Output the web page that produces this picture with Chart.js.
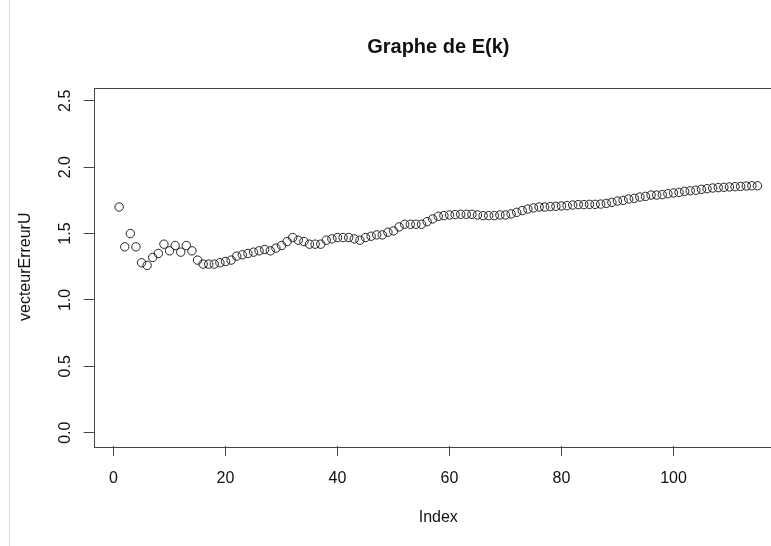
<!DOCTYPE html>
<html>
<head>
<meta charset="utf-8">
<title>Graphe de E(k)</title>
<script src="https://cdn.jsdelivr.net/npm/chart.js@4/dist/chart.umd.min.js"></script>
<style>
  html, body { margin: 0; padding: 0; background: #fff; overflow: hidden; }
  #wrap { position: relative; width: 771px; height: 546px; overflow: hidden; }
  #frame { position: absolute; left: 9px; top: 0; width: 1px; height: 546px; background: #dadada; }
  canvas { position: absolute; left: 0; top: 0; }
</style>
</head>
<body>
<div id="wrap">
  <canvas id="chart" width="800" height="546"></canvas>
  <div id="frame"></div>
</div>
<script>
// valeurs (vecteurErreurU, index 1..115)
const vecteurErreurU = [
  1.70, 1.40, 1.50, 1.40, 1.28, 1.26, 1.32, 1.35, 1.42, 1.37,
  1.41, 1.36, 1.41, 1.37, 1.30, 1.27, 1.27, 1.27, 1.28, 1.29,
  1.30, 1.33, 1.34, 1.35, 1.36, 1.37, 1.38, 1.37, 1.39, 1.41,
  1.44, 1.47, 1.45, 1.44, 1.42, 1.42, 1.42, 1.45, 1.46, 1.47,
  1.47, 1.47, 1.46, 1.45, 1.47, 1.48, 1.49, 1.49, 1.51, 1.52,
  1.55, 1.57, 1.57, 1.57, 1.57, 1.59, 1.61, 1.63, 1.635, 1.64,
  1.643, 1.645, 1.645, 1.645, 1.64, 1.635, 1.635, 1.635, 1.64, 1.64,
  1.648, 1.66, 1.673, 1.685, 1.693, 1.70, 1.70, 1.703, 1.705, 1.708,
  1.71, 1.715, 1.718, 1.718, 1.72, 1.72, 1.722, 1.727, 1.735, 1.745,
  1.75, 1.76, 1.765, 1.775, 1.78, 1.79, 1.79, 1.793, 1.80, 1.806,
  1.81, 1.818, 1.822, 1.826, 1.833, 1.838, 1.843, 1.846, 1.848, 1.851,
  1.853, 1.855, 1.858, 1.86, 1.86
];
const xTicks = [0, 20, 40, 60, 80, 100];
const yTicks = [0.0, 0.5, 1.0, 1.5, 2.0, 2.5];

// limites comme R (étendues de 4 %)
const n = vecteurErreurU.length;
const xMin = 1 - 0.04 * (n - 1);
const xMax = n + 0.04 * (n - 1);

const points = vecteurErreurU.map((v, i) => ({ x: i + 1, y: v }));

const textColor = '#111';
const axisColor = '#444';

Chart.defaults.font.family = "'Liberation Sans', Arial, sans-serif";
Chart.defaults.color = textColor;

// cadre autour de la zone de tracé
const boxPlugin = {
  id: 'box',
  beforeDatasetsDraw(chart) {
    const { ctx, chartArea: a } = chart;
    ctx.save();
    ctx.strokeStyle = axisColor;
    ctx.lineWidth = 1;
    ctx.strokeRect(Math.round(a.left) + 0.5, Math.round(a.top) + 0.5,
      Math.round(a.right - a.left), Math.round(a.bottom - a.top));
    ctx.restore();
  }
};

new Chart(document.getElementById('chart'), {
  type: 'scatter',
  data: {
    datasets: [{
      data: points,
      showLine: false,
      pointStyle: 'circle',
      pointRadius: 4.2,
      pointBorderWidth: 1,
      pointBorderColor: '#222',
      pointBackgroundColor: 'rgba(0,0,0,0)'
    }]
  },
  options: {
    responsive: false,
    animation: false,
    layout: { padding: { left: 0, right: 17, top: 0, bottom: 0 } },
    plugins: {
      legend: { display: false },
      tooltip: { enabled: false },
      title: {
        display: true,
        text: 'Graphe de E(k)',
        fullSize: false,
        color: textColor,
        font: { size: 20, weight: 'bold' },
        padding: { top: 35, bottom: 28.5 }
      }
    },
    scales: {
      x: {
        type: 'linear',
        min: xMin,
        max: xMax,
        afterBuildTicks: s => { s.ticks = xTicks.map(v => ({ value: v })); },
        afterFit: s => { s.height = 100; },
        grid: { drawOnChartArea: false, drawTicks: true, tickLength: 10, color: axisColor },
        border: { display: false },
        ticks: { padding: 13, maxRotation: 0, font: { size: 16 }, color: textColor },
        title: { display: true, text: 'Index', font: { size: 16 }, color: textColor, padding: { bottom: 19 } }
      },
      y: {
        type: 'linear',
        min: -0.1,
        max: 2.6,
        afterBuildTicks: s => { s.ticks = yTicks.map(v => ({ value: v })); },
        afterFit: s => { s.width = 93.6; },
        grid: { drawOnChartArea: false, drawTicks: true, tickLength: 10, color: axisColor },
        border: { display: false },
        ticks: {
          minRotation: 90, maxRotation: 90, crossAlign: 'center', padding: 7,
          font: { size: 16 }, color: textColor,
          callback: v => v.toFixed(1)
        },
        title: { display: true, text: 'vecteurErreurU', font: { size: 16 }, color: textColor, padding: { top: 16.4 } }
      }
    }
  },
  plugins: [boxPlugin]
});
</script>
</body>
</html>
